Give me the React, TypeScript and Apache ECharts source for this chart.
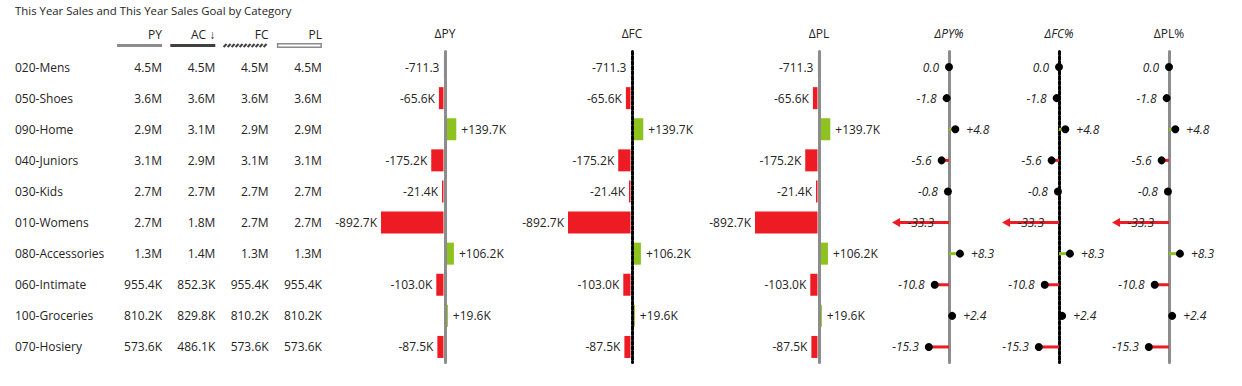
import React, { useEffect, useRef } from "react";
import * as echarts from "echarts";

// ---------- data ----------
const categories = [
  "020-Mens", "050-Shoes", "090-Home", "040-Juniors", "030-Kids",
  "010-Womens", "080-Accessories", "060-Intimate", "100-Groceries", "070-Hosiery",
];
const tableHeaders = ["PY", "AC ↓", "FC", "PL"];
const pyValues = [4.5e6, 3.6e6, 2.9e6, 3.1e6, 2.7e6, 2.7e6, 1.3e6, 955.4e3, 810.2e3, 573.6e3];
const acValues = [4.5e6, 3.6e6, 3.1e6, 2.9e6, 2.7e6, 1.8e6, 1.4e6, 852.3e3, 829.8e3, 486.1e3];
const fcValues = [4.5e6, 3.6e6, 2.9e6, 3.1e6, 2.7e6, 2.7e6, 1.3e6, 955.4e3, 810.2e3, 573.6e3];
const plValues = [4.5e6, 3.6e6, 2.9e6, 3.1e6, 2.7e6, 2.7e6, 1.3e6, 955.4e3, 810.2e3, 573.6e3];

const deltaTitles = ["ΔPY", "ΔFC", "ΔPL"];
const deltaPY = [-711.3, -65.6e3, 139.7e3, -175.2e3, -21.4e3, -892.7e3, 106.2e3, -103.0e3, 19.6e3, -87.5e3];
const deltaFC = [-711.3, -65.6e3, 139.7e3, -175.2e3, -21.4e3, -892.7e3, 106.2e3, -103.0e3, 19.6e3, -87.5e3];
const deltaPL = [-711.3, -65.6e3, 139.7e3, -175.2e3, -21.4e3, -892.7e3, 106.2e3, -103.0e3, 19.6e3, -87.5e3];

const pctTitles = ["ΔPY%", "ΔFC%", "ΔPL%"];
const deltaPYPct = [0.0, -1.8, 4.8, -5.6, -0.8, -33.3, 8.3, -10.8, 2.4, -15.3];
const deltaFCPct = [0.0, -1.8, 4.8, -5.6, -0.8, -33.3, 8.3, -10.8, 2.4, -15.3];
const deltaPLPct = [0.0, -1.8, 4.8, -5.6, -0.8, -33.3, 8.3, -10.8, 2.4, -15.3];

// ---------- style / layout ----------
const FONT = "'Segoe UI', 'Open Sans', sans-serif";
const TEXT = "#252423";
const RED = "#ED1C24";
const GREEN = "#8DC21F";
const GRAY = "#8c8c8c";
const DARK = "#404040";

const ROW_TOP = 51.5;
const ROW_H = 311;
const TABLE_LEFT = 108.7;
const COL_W = 53.3;
const DELTA_AXIS_X = [445, 632, 819];
const DELTA_HALF = 63; // px for 900K
const DELTA_MAX = 900e3;
const BAR_H = 22;
const AXIS_HALF_W = 1.5;
const PCT_AXIS_X = [949, 1059, 1169];
const PCT_HALF = 52.8; // px for 40
const PCT_MAX = 40;
const PCT_OUTLIER = 30;

const fmtNum = (v: number) => {
  const a = Math.abs(v);
  if (a >= 1e6) return (v / 1e6).toFixed(1) + "M";
  if (a >= 1e3) return (v / 1e3).toFixed(1) + "K";
  return v.toFixed(1);
};
const fmtDelta = (v: number) => (v > 0 ? "+" : "") + fmtNum(v);
const fmtPct = (v: number) => (v > 0 ? "+" : "") + v.toFixed(1);

function buildOption() {
  const grids: any[] = [];
  const xAxes: any[] = [];
  const yAxes: any[] = [];
  const series: any[] = [];

  // table grid
  grids.push({ left: TABLE_LEFT, top: ROW_TOP, width: COL_W * 4, height: ROW_H, outerBoundsMode: "none" });
  xAxes.push({ gridIndex: 0, type: "value", min: 0, max: 4, show: false });
  yAxes.push({
    gridIndex: 0, type: "category", data: categories, inverse: true,
    axisLine: { show: false }, axisTick: { show: false }, splitLine: { show: false },
    axisLabel: { align: "left", margin: TABLE_LEFT - 15, fontSize: 12, color: TEXT, fontFamily: FONT },
  });
  const tableData = [pyValues, acValues, fcValues, plValues].flatMap((col, c) =>
    col.map((v, r) => [c + 1, r, v])
  );
  series.push({
    type: "custom", xAxisIndex: 0, yAxisIndex: 0, data: tableData, encode: { x: 0, y: 1 },
    renderItem: (_p: any, api: any) => {
      const pt = api.coord([api.value(0), api.value(1)]);
      return {
        type: "text",
        style: {
          text: fmtNum(api.value(2) as number), x: pt[0], y: pt[1], align: "right",
          verticalAlign: "middle", fill: TEXT, fontSize: 12, fontFamily: FONT,
        },
      };
    },
  });

  const axisStyle = (i: number) =>
    i === 1
      ? { color: "#000", width: 3, type: [3, 2] }
      : { color: GRAY, width: 3, type: "solid" };

  // delta bar grids
  const deltas = [deltaPY, deltaFC, deltaPL];
  deltas.forEach((vals, i) => {
    const gi = grids.length;
    grids.push({ left: DELTA_AXIS_X[i] - DELTA_HALF, top: ROW_TOP, width: DELTA_HALF * 2, height: ROW_H, outerBoundsMode: "none" });
    xAxes.push({
      gridIndex: gi, type: "value", min: -DELTA_MAX, max: DELTA_MAX, position: "top",
      axisLine: { show: false }, axisTick: { show: false }, axisLabel: { show: false }, splitLine: { show: false },
      name: deltaTitles[i], nameLocation: "middle", nameGap: 12,
      nameTextStyle: { fontSize: 12, color: TEXT, fontFamily: FONT },
    });
    yAxes.push({
      gridIndex: gi, type: "category", data: categories, inverse: true, z: 5,
      axisLine: { show: true, onZero: true, lineStyle: axisStyle(i) },
      axisTick: { show: false }, axisLabel: { show: false }, splitLine: { show: false },
    });
    series.push({
      type: "custom", xAxisIndex: gi, yAxisIndex: gi, z: 2,
      data: vals.map((v, r) => [v, r]), encode: { x: 0, y: 1 },
      renderItem: (_p: any, api: any) => {
        const v = api.value(0) as number;
        const r = api.value(1);
        const base = api.coord([0, r]);
        const end = api.coord([v, r]);
        const y = base[1];
        const off = v >= 0 ? AXIS_HALF_W : -AXIS_HALF_W;
        const x0 = base[0] + off;
        const x1 = end[0] + off;
        return {
          type: "group",
          children: [
            {
              type: "rect",
              shape: { x: Math.min(x0, x1), y: y - BAR_H / 2, width: Math.abs(x1 - x0), height: BAR_H },
              style: { fill: v >= 0 ? GREEN : RED },
            },
            {
              type: "text",
              style: {
                text: fmtDelta(v), x: v >= 0 ? x1 + 5 : x1 - 4, y,
                align: v >= 0 ? "left" : "right", verticalAlign: "middle",
                fill: TEXT, fontSize: 12, fontFamily: FONT,
              },
            },
          ],
        };
      },
    });
  });

  // percent lollipop grids
  const pcts = [deltaPYPct, deltaFCPct, deltaPLPct];
  pcts.forEach((vals, i) => {
    const gi = grids.length;
    grids.push({ left: PCT_AXIS_X[i] - PCT_HALF, top: ROW_TOP, width: PCT_HALF * 2, height: ROW_H, outerBoundsMode: "none" });
    xAxes.push({
      gridIndex: gi, type: "value", min: -PCT_MAX, max: PCT_MAX, position: "top",
      axisLine: { show: false }, axisTick: { show: false }, axisLabel: { show: false }, splitLine: { show: false },
      name: pctTitles[i], nameLocation: "middle", nameGap: 12,
      nameTextStyle: { fontSize: 12, color: TEXT, fontFamily: FONT, fontStyle: i < 2 ? "italic" : "normal" },
    });
    yAxes.push({
      gridIndex: gi, type: "category", data: categories, inverse: true, z: 5,
      axisLine: { show: true, onZero: true, lineStyle: axisStyle(i) },
      axisTick: { show: false }, axisLabel: { show: false }, splitLine: { show: false },
    });
    series.push({
      type: "custom", xAxisIndex: gi, yAxisIndex: gi, z: 6,
      data: vals.map((v, r) => [v, r]), encode: { x: 0, y: 1 },
      renderItem: (_p: any, api: any) => {
        const v = api.value(0) as number;
        const r = api.value(1);
        const base = api.coord([0, r]);
        const end = api.coord([v, r]);
        const y = base[1];
        const color = v > 0 ? GREEN : RED;
        const children: any[] = [];
        const txt = { fill: TEXT, fontSize: 12, fontFamily: FONT, fontStyle: "italic", verticalAlign: "middle" };
        if (Math.abs(v) > PCT_OUTLIER) {
          const dir = v < 0 ? -1 : 1;
          const lineEnd = end[0] + dir * 5;
          const tip = end[0] + dir * 13;
          children.push({
            type: "line", shape: { x1: base[0], y1: y, x2: lineEnd, y2: y },
            style: { stroke: color, lineWidth: 3 },
          });
          children.push({
            type: "polygon",
            shape: { points: [[tip, y], [lineEnd, y - 4.5], [lineEnd, y + 4.5]] },
            style: { fill: color },
          });
          children.push({
            type: "text",
            style: { ...txt, text: fmtPct(v), x: base[0] + dir * 15, y, align: dir < 0 ? "right" : "left" },
          });
        } else {
          children.push({
            type: "line", shape: { x1: base[0], y1: y, x2: end[0], y2: y },
            style: { stroke: color, lineWidth: 3 },
          });
          children.push({
            type: "circle", shape: { cx: end[0], cy: y, r: 4 },
            style: { fill: "#000" },
          });
          if (v > 0) {
            children.push({ type: "text", style: { ...txt, text: fmtPct(v), x: end[0] + 11, y, align: "left" } });
          } else {
            children.push({ type: "text", style: { ...txt, text: fmtPct(v), x: end[0] - 10, y, align: "right" } });
          }
        }
        return { type: "group", children };
      },
    });
  });

  // table header graphics
  const graphics: any[] = [];
  tableHeaders.forEach((h, c) => {
    const right = TABLE_LEFT + COL_W * (c + 1);
    graphics.push({
      type: "text", x: right, y: 34,
      style: { text: h, align: "right", verticalAlign: "middle", fill: TEXT, fontSize: 12, fontFamily: FONT },
    });
    const x0 = right - 45;
    if (c === 0) {
      graphics.push({ type: "rect", shape: { x: x0, y: 44, width: 45, height: 3 }, style: { fill: GRAY } });
    } else if (c === 1) {
      graphics.push({ type: "rect", shape: { x: x0, y: 44, width: 45, height: 3 }, style: { fill: DARK } });
    } else if (c === 2) {
      for (let k = 0; k < 11; k++) {
        const xs = x0 + k * 4;
        graphics.push({
          type: "line", shape: { x1: xs, y1: 47, x2: xs + 3, y2: 44 },
          style: { stroke: DARK, lineWidth: 2 },
        });
      }
    } else {
      graphics.push({
        type: "rect", shape: { x: x0 + 0.75, y: 43.75, width: 43.5, height: 3.5 },
        style: { fill: "#fff", stroke: GRAY, lineWidth: 1.5 },
      });
    }
  });

  return {
    animation: false,
    backgroundColor: "#fff",
    title: {
      text: "This Year Sales and This Year Sales Goal by Category", left: 10, top: 0,
      textStyle: { fontSize: 11.4, fontWeight: "normal", color: TEXT, fontFamily: FONT },
    },
    grid: grids,
    xAxis: xAxes,
    yAxis: yAxes,
    series,
    graphic: graphics,
  };
}

export default function App() {
  const ref = useRef<HTMLDivElement>(null);
  useEffect(() => {
    const chart = echarts.init(ref.current!, null, { renderer: "svg" });
    chart.setOption(buildOption() as any);
    return () => chart.dispose();
  }, []);
  return (
    <div
      ref={ref}
      style={{ position: "absolute", left: 0, top: 0, width: 1242, height: 386, background: "#fff" }}
    />
  );
}
